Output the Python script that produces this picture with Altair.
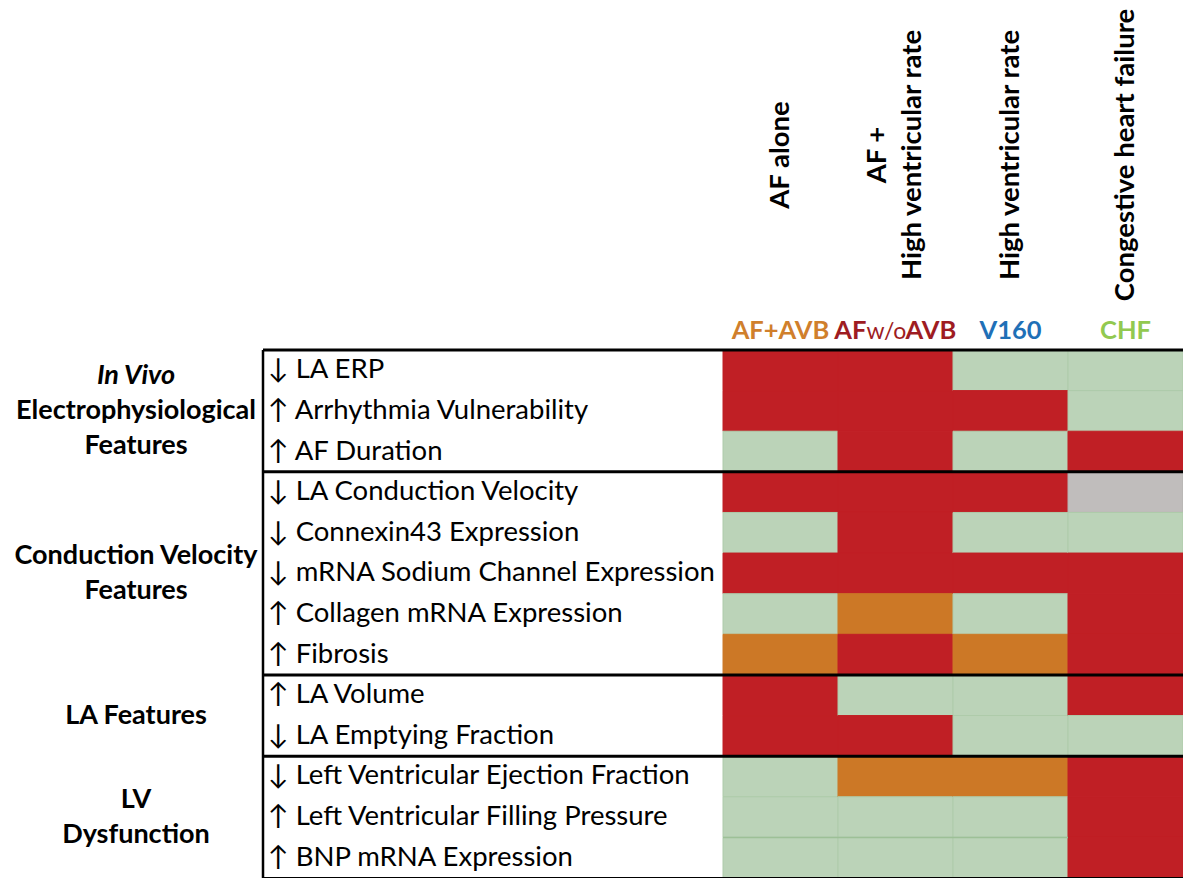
import altair as alt
import pandas as pd

# ---- data ----
features = [
    "↓ LA ERP",
    "↑ Arrhythmia Vulnerability",
    "↑ AF Duration",
    "↓ LA Conduction Velocity",
    "↓ Connexin43 Expression",
    "↓ mRNA Sodium Channel Expression",
    "↑ Collagen mRNA Expression",
    "↑ Fibrosis",
    "↑ LA Volume",
    "↓ LA Emptying Fraction",
    "↓ Left Ventricular Ejection Fraction",
    "↑ Left Ventricular Filling Pressure",
    "↑ BNP mRNA Expression",
]
models_long = [["AF alone"], ["AF +", "High ventricular rate"], ["High ventricular rate"], ["Congestive heart failure"]]
models_short = ["AF+AVB", "AFw/oAVB", "V160", "CHF"]

# R = red, G = green, O = orange, N = not assessed (grey)
af_avb   = ["R", "R", "G", "R", "G", "R", "G", "O", "R", "R", "G", "G", "G"]
af_woavb = ["R", "R", "R", "R", "R", "R", "O", "R", "G", "R", "O", "G", "G"]
v160     = ["G", "R", "G", "R", "G", "R", "G", "O", "G", "G", "O", "G", "G"]
chf      = ["G", "G", "R", "N", "G", "R", "R", "R", "R", "G", "R", "R", "R"]
columns_vals = [af_avb, af_woavb, v160, chf]

# group labels: list of lines; a leading "*" marks an italic line
groups = [["*In Vivo", "Electrophysiological", "Features"], ["Conduction Velocity", "Features"],
          ["LA Features"], ["LV", "Dysfunction"]]
group_sizes = [3, 5, 2, 3]

status_domain = ["R", "G", "O", "N"]
fill_range = ["#C01F25", "#BBD3B8", "#CC7826", "#C0BDBC"]
stroke_range = ["#C01F25", "#AECBAA", "#CC7826", "#B5B2B1"]
short_colors = ["#D07F2C", "#9E1C22", "#1F70B7", "#92C950"]

FONT = "Lato"
W, H = 460, 528
NROW = len(features)
LINE = 35  # line spacing of multi-line labels, px

# ---- tables ----
cells = []
for j, vals in enumerate(columns_vals):
    for i, v in enumerate(vals):
        cells.append({"r0": i, "r1": i + 1, "c0": j, "c1": j + 1, "status": v})
cells = pd.DataFrame(cells)

rows = pd.DataFrame({"feature": features, "rc": [i + 0.5 for i in range(NROW)]})

starts = []
s = 0
for n in group_sizes:
    starts.append(s)
    s += n
gl = []
for lines, st, n in zip(groups, starts, group_sizes):
    for k, line in enumerate(lines):
        gl.append({"text": line.lstrip("*"), "italic": line.startswith("*"),
                   "gc": st + n / 2, "off": k - (len(lines) - 1) / 2})
gl = pd.DataFrame(gl)
bounds = pd.DataFrame({"b": starts})

hl = []
for j, lines in enumerate(models_long):
    for k, line in enumerate(lines):
        hl.append({"text": line, "cc": j + 0.5, "off": k - (len(lines) - 1) / 2})
hl = pd.DataFrame(hl)

heads = pd.DataFrame({"short": models_short, "cc": [j + 0.5 for j in range(4)], "color": short_colors})

xs = alt.Scale(domain=[0, 4], nice=False, zero=False)
ys = alt.Scale(domain=[0, NROW], nice=False, zero=False, reverse=True)

base_cells = alt.Chart(cells).mark_rect(strokeWidth=1).encode(
    x=alt.X("c0:Q", scale=xs, axis=None),
    x2="c1:Q",
    y=alt.Y("r0:Q", scale=ys, axis=None),
    y2="r1:Q",
    fill=alt.Fill("status:N", scale=alt.Scale(domain=status_domain, range=fill_range), legend=None),
    stroke=alt.Stroke("status:N", scale=alt.Scale(domain=status_domain, range=stroke_range), legend=None),
)

# faint darker green line between the last two rows of the first three columns
green_line = alt.Chart(pd.DataFrame({"b": [NROW - 1], "c0": [0], "c1": [3]})).mark_rule(
    color="#9DC097", strokeWidth=1.5).encode(
    x=alt.X("c0:Q", scale=xs, axis=None), x2="c1:Q", y=alt.Y("b:Q", scale=ys, axis=None))

row_labels = alt.Chart(rows).mark_text(align="left", baseline="middle", font=FONT, fontSize=27.5,
                                       color="black").encode(
    x=alt.value(-455), y=alt.Y("rc:Q", scale=ys, axis=None), text="feature:N")

# group labels: one layer per line offset, shifted by whole line heights
group_layers = []
for off in sorted(gl["off"].unique()):
    for ital in (False, True):
        sub = gl[(gl["off"] == off) & (gl["italic"] == ital)]
        if sub.empty:
            continue
        kw = {"fontStyle": "italic"} if ital else {}
        group_layers.append(alt.Chart(sub).mark_text(
            align="center", baseline="middle", font=FONT, fontSize=27, fontWeight="bold", color="black",
            dy=float(off) * LINE, **kw).encode(
            x=alt.value(-587), y=alt.Y("gc:Q", scale=ys, axis=None), text="text:N"))

sep_rules = alt.Chart(bounds).mark_rule(color="black", strokeWidth=3).encode(
    x=alt.value(-460), x2=alt.value(W), y=alt.Y("b:Q", scale=ys, axis=None))

bottom_rule = alt.Chart(pd.DataFrame({"b": [NROW]})).mark_rule(color="black", strokeWidth=2).encode(
    x=alt.value(-460), x2=alt.value(W), y=alt.Y("b:Q", scale=ys, axis=None))

left_rule = alt.Chart(pd.DataFrame({"a": [0], "b": [NROW]})).mark_rule(color="black", strokeWidth=2.5).encode(
    x=alt.value(-460), y=alt.Y("a:Q", scale=ys, axis=None), y2="b:Q")

# rotated column headers (dy of rotated text moves it sideways)
head_layers = []
for off in sorted(hl["off"].unique()):
    sub = hl[hl["off"] == off]
    head_layers.append(alt.Chart(sub).mark_text(
        angle=270, align="center", baseline="middle", font=FONT, fontSize=27.5, fontWeight="bold",
        color="black", dy=float(off) * LINE).encode(
        x=alt.X("cc:Q", scale=xs, axis=None), y=alt.value(-195), text="text:N"))

SHORT_Y = -11
short_plain = alt.Chart(heads).transform_filter("datum.short != 'AFw/oAVB'").mark_text(
    align="center", baseline="alphabetic", font=FONT, fontSize=25.5, fontWeight="bold").encode(
    x=alt.X("cc:Q", scale=xs, axis=None), y=alt.value(SHORT_Y), text="short:N",
    color=alt.Color("color:N", scale=None))

woavb = heads[heads["short"] == "AFw/oAVB"]
p1 = alt.Chart(woavb).transform_calculate(t="'AF'").mark_text(
    align="right", baseline="alphabetic", font=FONT, fontSize=25.5, fontWeight="bold", dx=-29).encode(
    x=alt.X("cc:Q", scale=xs, axis=None), y=alt.value(SHORT_Y), text="t:N",
    color=alt.Color("color:N", scale=None))
p2 = alt.Chart(woavb).transform_calculate(t="'w/o'").mark_text(
    align="center", baseline="alphabetic", font=FONT, fontSize=23, dx=-9).encode(
    x=alt.X("cc:Q", scale=xs, axis=None), y=alt.value(SHORT_Y), text="t:N",
    color=alt.Color("color:N", scale=None))
p3 = alt.Chart(woavb).transform_calculate(t="'AVB'").mark_text(
    align="left", baseline="alphabetic", font=FONT, fontSize=25.5, fontWeight="bold", dx=10).encode(
    x=alt.X("cc:Q", scale=xs, axis=None), y=alt.value(SHORT_Y), text="t:N",
    color=alt.Color("color:N", scale=None))

chart = alt.layer(
    base_cells, green_line, row_labels, *group_layers, sep_rules, bottom_rule, left_rule,
    *head_layers, short_plain, p1, p2, p3
).resolve_scale(color="independent").properties(
    width=W, height=H,
    autosize=alt.AutoSizeParams(type="none"),
    padding={"left": 715, "top": 342, "right": 0, "bottom": 0},
).configure_view(stroke=None)

chart.save("out.html", embed_options={"renderer": "svg", "actions": False})
